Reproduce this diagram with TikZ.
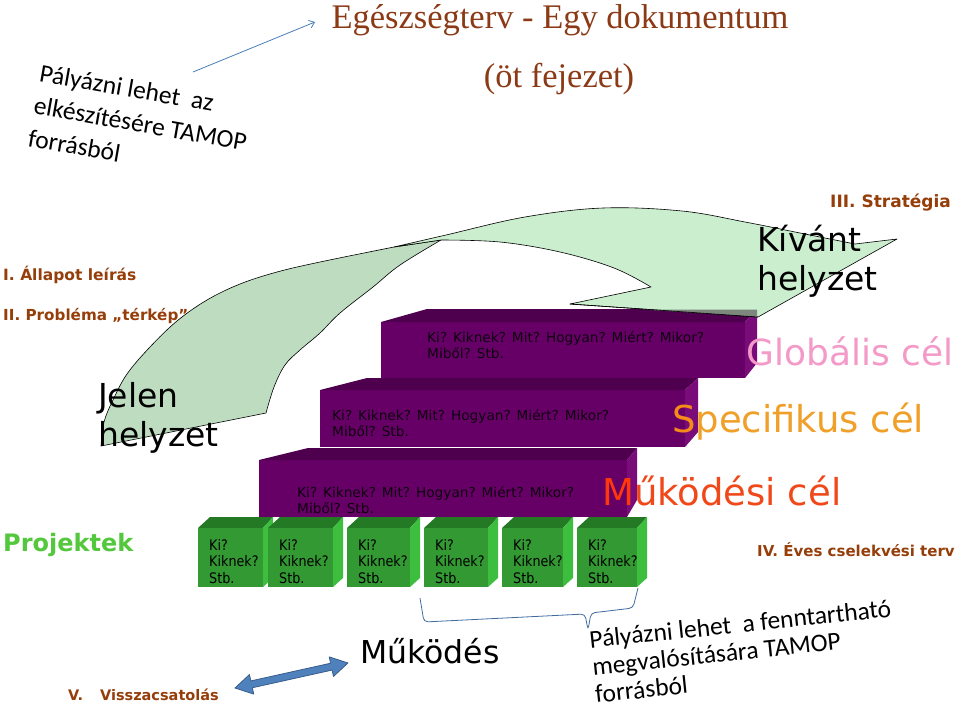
\documentclass[tikz,border=0pt]{standalone}
\usepackage{fontspec}
\setmainfont{DejaVu Sans}
\newfontfamily\comic{DejaVu Sans}
\newfontfamily\comicn[FakeStretch=0.88]{DejaVu Sans}
\newfontfamily\tnr{Liberation Serif}
\newfontfamily\calib{Carlito}
\usetikzlibrary{arrows.meta}
\definecolor{titlebrown}{RGB}{140,58,22}
\definecolor{lblbrown}{RGB}{150,62,10}
\definecolor{purf}{RGB}{102,0,102}
\definecolor{purt}{RGB}{78,0,78}
\definecolor{purs}{RGB}{122,12,122}
\definecolor{grf}{RGB}{51,153,51}
\definecolor{grt}{RGB}{36,122,36}
\definecolor{grs}{RGB}{62,190,62}
\definecolor{arrtail}{RGB}{190,221,192}
\definecolor{arrhead}{RGB}{202,238,206}
\definecolor{pinkc}{RGB}{243,154,200}
\definecolor{orangec}{RGB}{240,160,40}
\definecolor{orangeS}{RGB}{245,140,25}
\definecolor{redc}{RGB}{240,72,25}
\definecolor{redM}{RGB}{255,55,10}
\definecolor{projgreen}{RGB}{84,200,60}
\definecolor{lineblue}{RGB}{74,126,187}
\definecolor{dblblue}{RGB}{79,129,189}
\definecolor{dbledge}{RGB}{56,93,138}
\definecolor{sliver}{RGB}{125,135,125}
\tikzset{
 steptxt/.style={anchor=base west, inner sep=0, align=left, font=\comic\fontsize{13.7}{16.5}\selectfont, text=black!85!purf},
 boxtxt/.style={anchor=base west, inner sep=0, align=left, font=\comicn\fontsize{14.5}{16.5}\selectfont, text=black},
 lbl/.style={anchor=base west, inner sep=0, font=\comic\bfseries\fontsize{15.5}{18}\selectfont, text=lblbrown},
 bigblack/.style={anchor=base west, inner sep=0, align=left, font=\comic\fontsize{33}{39}\selectfont, text=black},
 goal/.style={anchor=base west, inner sep=0, font=\comic\fontsize{37}{44}\selectfont},
 tamop/.style={anchor=base west, inner sep=0, align=left, font=\calib\fontsize{25.5}{33}\selectfont, text=black},
 outline/.style={draw=black, line width=0.6pt, line join=round}
}
\begin{document}
\begin{tikzpicture}[x=1pt,y=-1pt]
\fill[white] (0,0) rectangle (960,713);
\path[use as bounding box] (0,0) rectangle (960,713);

% title
\node[anchor=base, inner sep=0, font=\tnr\fontsize{34.5}{40}\selectfont, text=titlebrown] (title) at (560,28) {Egészségterv - Egy dokumentum};
\node[anchor=base, inner sep=0, font=\tnr\fontsize{34.5}{40}\selectfont, text=titlebrown] (subtitle) at (559,87) {(öt fejezet)};

% rotated text top-left and thin arrow (anchor = start of last baseline)
\node[tamop, rotate=-10] (tamop1) at (27,146) {Pályázni lehet\ \ az\\elkészítésére TAMOP\\forrásból};
\coordinate (arrS) at (193,72);
\coordinate (arrE) at (315,22);
\draw[lineblue, line width=0.8pt, -{Straight Barb[length=5pt,width=8pt]}] (arrS) -- (arrE);

% purple steps (top, middle, bottom)
\fill[purf] (381,322) rectangle (745,378);
\fill[purt] (381,322) -- (427,309) -- (757,309) -- (745,322) -- cycle;
\fill[purs] (745,322) -- (757,309) -- (757,363) -- (745,378) -- cycle;

\fill[purf] (320,390) rectangle (685,447);
\fill[purt] (320,390) -- (367,378) -- (698,378) -- (685,390) -- cycle;
\fill[purs] (685,390) -- (698,378) -- (698,432) -- (685,447) -- cycle;

\fill[purf] (259,460) rectangle (627,517);
\fill[purt] (259,460) -- (308,448) -- (637,448) -- (627,460) -- cycle;
\fill[purs] (627,460) -- (637,448) -- (637,500) -- (627,517) -- cycle;

\node[steptxt] (st1) at (427,358.5) {Ki? Kiknek? Mit? Hogyan? Miért? Mikor?\\Miből? Stb.};
\node[steptxt] (st2) at (332,436.5) {Ki? Kiknek? Mit? Hogyan? Miért? Mikor?\\Miből? Stb.};
\node[steptxt] (st3) at (297,513.5) {Ki? Kiknek? Mit? Hogyan? Miért? Mikor?\\Miből? Stb.};

% green cubes
\foreach \a/\b/\n in {198/263/1, 268/333/2, 347/410/3, 424/488/4, 502/563/5, 577/637/6} {
  \fill[grt] (\a,528) -- (\a+12,517) -- (\b+10,517) -- (\b,528) -- cycle;
  \fill[grs] (\b,528) -- (\b+10,517) -- (\b+10,578) -- (\b,587) -- cycle;
  \fill[grf] (\a,528) rectangle (\b,587);
  \node[boxtxt] (box\n) at (\a+11,583) {Ki?\\Kiknek?\\Stb.};
}

% curved green arrow: tail band
\filldraw[fill=arrtail, outline] (101,446) -- plot[smooth, tension=0.6] coordinates {(101,446) (104,422) (113,400) (127,374) (150,347) (177,321) (207,300) (240,284) (277,272) (320,262) (394,247)} -- (441,240) -- plot[smooth, tension=0.6] coordinates {(441,240) (400,265) (373,287) (340,313) (320,333) (300,350) (285,365) (274,387) (266,413)} -- cycle;
% head band
\filldraw[fill=arrhead, outline] (394,247) -- plot[smooth, tension=0.6] coordinates {(394,247) (446,235) (525,217) (603,208) (682,211) (745,222) (800,233) (855,244)} -- (897,239) -- (758,317) -- (570,304) -- (651,287) -- plot[smooth, tension=0.6] coordinates {(651,287) (614,268) (560,252) (500,242) (441,240)} -- cycle;
\fill[sliver] (642,309.5) -- (757,309.5) -- (757,316.5) -- cycle;
\draw[outline] (570,304) -- (758,317);

% labels
\node[lbl, font=\comic\bfseries\fontsize{17}{18}\selectfont] (lab3) at (830,207) {III. Stratégia};
\node[lbl] (lab1) at (3,280) {I. Állapot leírás};
\node[lbl, font=\comic\bfseries\fontsize{15.2}{18}\selectfont] (lab2) at (3,320) {II. Probléma „térkép”};
\node[lbl, font=\comic\bfseries\fontsize{15}{18}\selectfont] (lab4) at (757,556) {IV. Éves cselekvési terv};
\node[lbl, font=\comic\bfseries\fontsize{14.5}{18}\selectfont] (lab5) at (68,700) {V.\hspace{17pt}Visszacsatolás};
\node[anchor=base west, inner sep=0, font=\comic\bfseries\fontsize{24}{28}\selectfont, text=projgreen] (proj) at (3,551) {Projektek};

% big texts (anchor = last baseline)
\node[bigblack] (jelen) at (98,446) {Jelen\\helyzet};
\node[bigblack] (kivant) at (757,290) {Kívánt\\helyzet};
\node[goal, text=pinkc, font=\comic\fontsize{36}{44}\selectfont] (glob) at (746,365) {Globális cél};
\node[goal, text=orangec] (spec) at (672,432) {{\color{orangeS}S}pecifikus cél};
\node[goal, text=redc] (muk) at (602,505) {{\color{redM}M}űködési cél};
\node[anchor=base west, inner sep=0, font=\comic\fontsize{31.5}{38}\selectfont] (mukodes) at (360,663) {Működés};

% brace under cubes
\draw[lineblue!85!black, line width=0.8pt, rounded corners=4pt] (420,598) -- (424,622) -- (585,614) -- (588,630) -- (591,613) -- (633,608) -- (638,588);

% text bottom right
\node[tamop, rotate=6, font=\calib\fontsize{25.5}{27.5}\selectfont] (tamop2) at (596,703) {Pályázni lehet\ \ a fenntartható\\megvalósítására TAMOP\\forrásból};

% double arrow
\coordinate (dblL) at (235,688);
\coordinate (dblR) at (348,663);
\begin{scope}[shift={(dblL)}, rotate=12.5]
\filldraw[fill=dblblue, draw=dbledge, line width=0.8pt, line join=round] (0,0) -- (17,-10) -- (17,-3.5) -- (98.7,-3.5) -- (98.7,-10) -- (115.7,0) -- (98.7,10) -- (98.7,3.5) -- (17,3.5) -- (17,10) -- cycle;
\end{scope}
\end{tikzpicture}
\end{document}
